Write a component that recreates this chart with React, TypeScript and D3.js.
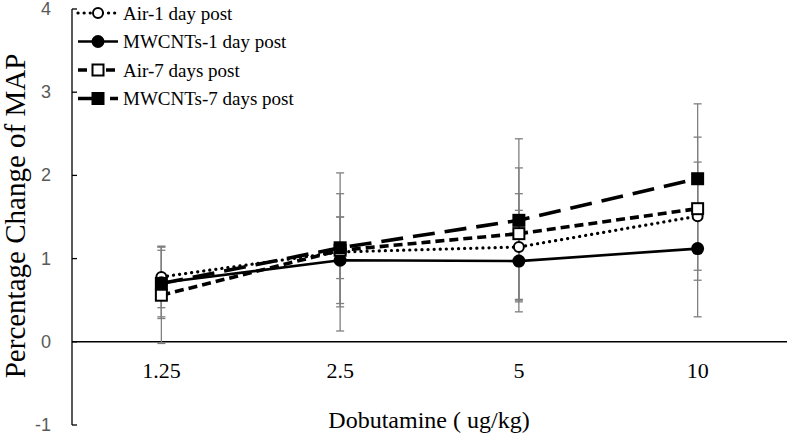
import React from "react";
import { scaleBand, scaleLinear, line } from "d3";

const width = 787;
const height = 436;

const doses = ["1.25", "2.5", "5", "10"];
const yTicks = [-1, 0, 1, 2, 3, 4];

const seriesNames = [
  "Air-1 day post",
  "MWCNTs-1 day post",
  "Air-7 days post",
  "MWCNTs-7 days post",
];

const air1Values = [0.78, 1.08, 1.14, 1.51];
const mw1Values = [0.71, 0.98, 0.97, 1.12];
const air7Values = [0.56, 1.1, 1.3, 1.6];
const mw7Values = [0.7, 1.13, 1.46, 1.96];

const air1Err = [0.37, 0.95, 0.64, 0.65];
const mw1Err = [0.43, 0.52, 0.61, 0.82];
const air7Err = [0.58, 0.68, 0.79, 0.86];
const mw7Err = [0.4, 0.37, 0.98, 0.9];

const styles = [
  { dash: "0.1 6", width: 3.2, cap: "round", marker: "openCircle" },
  { dash: "", width: 2.6, cap: "butt", marker: "circle" },
  { dash: "9 5", width: 3.6, cap: "butt", marker: "openSquare" },
  { dash: "22 10", width: 3.6, cap: "butt", marker: "square" },
];

const values = [air1Values, mw1Values, air7Values, mw7Values];
const errors = [air1Err, mw1Err, air7Err, mw7Err];

const serif = "Liberation Serif, Times New Roman, serif";

const x = scaleBand().domain(doses).range([72, 787]);
const y = scaleLinear().domain([-1, 4]).range([425, 9]);

const Marker = ({ kind, cx, cy }) => {
  if (kind === "openCircle")
    return <circle cx={cx} cy={cy} r={5} fill="#fff" stroke="#000" strokeWidth={2} />;
  if (kind === "circle") return <circle cx={cx} cy={cy} r={6.5} fill="#000" />;
  if (kind === "openSquare")
    return (
      <rect x={cx - 5.5} y={cy - 5.5} width={11} height={11} fill="#fff" stroke="#000" strokeWidth={2} />
    );
  return <rect x={cx - 6.5} y={cy - 6.5} width={13} height={13} fill="#000" />;
};

const App = () => {
  const cx = (d) => x(d) + x.bandwidth() / 2;
  const lineGen = line()
    .x((d) => cx(d[0]))
    .y((d) => y(d[1]));

  return (
    <svg
      width={width}
      height={height}
      style={{ position: "absolute", left: 0, top: 0, background: "#fff" }}
    >
      {/* axes */}
      <line x1={72} x2={72} y1={y(4)} y2={y(-1)} stroke="#000" strokeWidth={1.3} />
      {yTicks.map((t) => (
        <g key={t}>
          <line x1={72} x2={77} y1={y(t)} y2={y(t)} stroke="#000" strokeWidth={1.3} />
          <text
            x={51}
            y={y(t) + 6}
            textAnchor="end"
            fontFamily="Liberation Sans, Arial, sans-serif"
            fontSize={18}
            fill="#595959"
          >
            {t}
          </text>
        </g>
      ))}
      <line x1={72} x2={787} y1={y(0)} y2={y(0)} stroke="#000" strokeWidth={1.6} />
      {doses.map((d) => (
        <text key={d} x={cx(d)} y={378} textAnchor="middle" fontFamily={serif} fontSize={22}>
          {d}
        </text>
      ))}
      <text x={429} y={428} textAnchor="middle" fontFamily={serif} fontSize={24}>
        Dobutamine ( ug/kg)
      </text>
      <text
        transform={`translate(25, 216) rotate(-90)`}
        textAnchor="middle"
        fontFamily={serif}
        fontSize={29}
      >
        Percentage Change of MAP
      </text>

      {/* error bars */}
      {values.map((vals, si) =>
        vals.map((v, i) => {
          const px = cx(doses[i]);
          const top = y(v + errors[si][i]);
          const bot = y(v - errors[si][i]);
          return (
            <g key={`${si}-${i}`} stroke="#7f7f7f" strokeWidth={1.3}>
              <line x1={px} x2={px} y1={top} y2={bot} />
              <line x1={px - 4} x2={px + 4} y1={top} y2={top} />
              <line x1={px - 4} x2={px + 4} y1={bot} y2={bot} />
            </g>
          );
        })
      )}

      {/* lines */}
      {values.map((vals, si) => (
        <path
          key={si}
          d={lineGen(vals.map((v, i) => [doses[i], v]))}
          fill="none"
          stroke="#000"
          strokeWidth={styles[si].width}
          strokeDasharray={styles[si].dash}
          strokeLinecap={styles[si].cap}
        />
      ))}

      {/* markers */}
      {values.map((vals, si) =>
        vals.map((v, i) => (
          <Marker key={`m${si}-${i}`} kind={styles[si].marker} cx={cx(doses[i])} cy={y(v)} />
        ))
      )}

      {/* legend */}
      {seriesNames.map((name, si) => {
        const ly = 13 + si * 28.5;
        return (
          <g key={name}>
            <line
              x1={78}
              x2={118}
              y1={ly}
              y2={ly}
              stroke="#000"
              strokeWidth={styles[si].width}
              strokeDasharray={styles[si].dash}
              strokeLinecap={styles[si].cap}
            />
            <Marker kind={styles[si].marker} cx={98} cy={ly} />
            <text x={123} y={ly} dominantBaseline="central" fontFamily={serif} fontSize={19}>
              {name}
            </text>
          </g>
        );
      })}
    </svg>
  );
};

export default App;
